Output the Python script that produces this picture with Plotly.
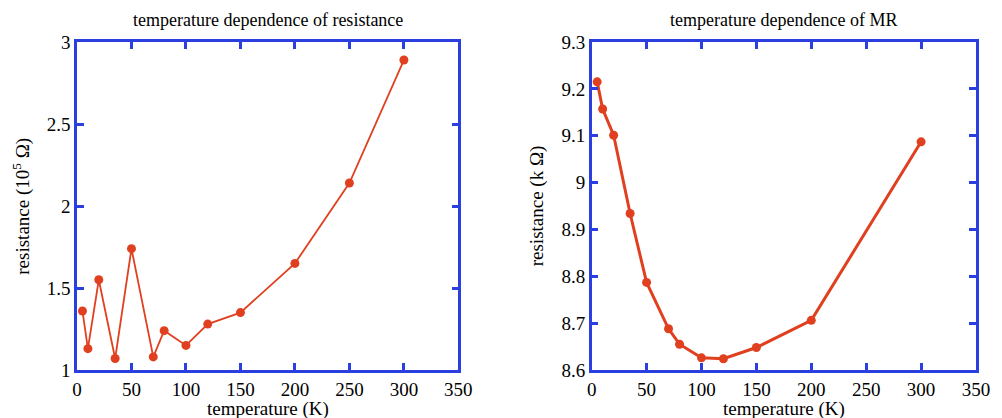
import plotly.graph_objects as go

temp_res = [5, 10, 20, 35, 50, 70, 80, 100, 120, 150, 200, 250, 300]
resistance = [1.36, 1.13, 1.55, 1.07, 1.74, 1.08, 1.24, 1.15, 1.28, 1.35, 1.65, 2.14, 2.89]

temp_mr = [5, 10, 20, 35, 50, 70, 80, 100, 120, 150, 200, 300]
mr_res = [9.215, 9.157, 9.101, 8.934, 8.787, 8.688, 8.655, 8.626, 8.624, 8.648, 8.706, 9.087]

red = "#e0401f"
blue = "#2b3fe0"
font = "Liberation Serif"

fig = go.Figure()
fig.add_trace(go.Scatter(x=temp_res, y=resistance, mode="lines+markers",
                         line=dict(color=red, width=1.8), marker=dict(color=red, size=9),
                         xaxis="x", yaxis="y", showlegend=False, cliponaxis=False))
fig.add_trace(go.Scatter(x=temp_mr, y=mr_res, mode="lines+markers",
                         line=dict(color=red, width=3), marker=dict(color=red, size=9),
                         xaxis="x2", yaxis="y2", showlegend=False, cliponaxis=False))

axcommon = dict(showline=True, linecolor=blue, linewidth=2.5, mirror="ticks",
                ticks="inside", ticklen=7, tickwidth=2.5, tickcolor=blue,
                showgrid=False, zeroline=False,
                tickfont=dict(family=font, size=19, color="black"))

def ann(text, x, y, size, angle=0):
    return dict(text=text, x=x, y=y, xref="paper", yref="paper", showarrow=False,
                xanchor="center", yanchor="middle", textangle=angle,
                font=dict(family=font, size=size, color="black"))

fig.update_layout(
    width=1002, height=418,
    margin=dict(l=77, r=15, t=42, b=48),
    paper_bgcolor="white", plot_bgcolor="white",
    font=dict(family=font, color="black"),
    xaxis=dict(domain=[0, 0.4242], range=[0, 350], dtick=50, anchor="y", **axcommon),
    yaxis=dict(range=[1, 3], dtick=0.5, anchor="x", **axcommon),
    xaxis2=dict(domain=[0.5725, 1], range=[0, 350], dtick=50, anchor="y2", **axcommon),
    yaxis2=dict(range=[8.6, 9.3], dtick=0.1, anchor="x2", **axcommon),
    annotations=[
        ann("temperature dependence of resistance", 0.2121, 1.067, 18),
        ann("temperature dependence of MR", 0.786, 1.067, 18),
        ann("temperature (K)", 0.2121, -0.118, 19),
        ann("temperature (K)", 0.786, -0.118, 19),
        ann("resistance (10<sup>5</sup> Ω)", -0.0626, 0.5, 19, -90),
        ann("resistance (k Ω)", 0.512, 0.5, 19, -90),
    ],
)

fig.write_html("out.html", config={"displayModeBar": False},
               post_script="document.body.style.margin='0px';document.body.style.overflow='hidden';")
